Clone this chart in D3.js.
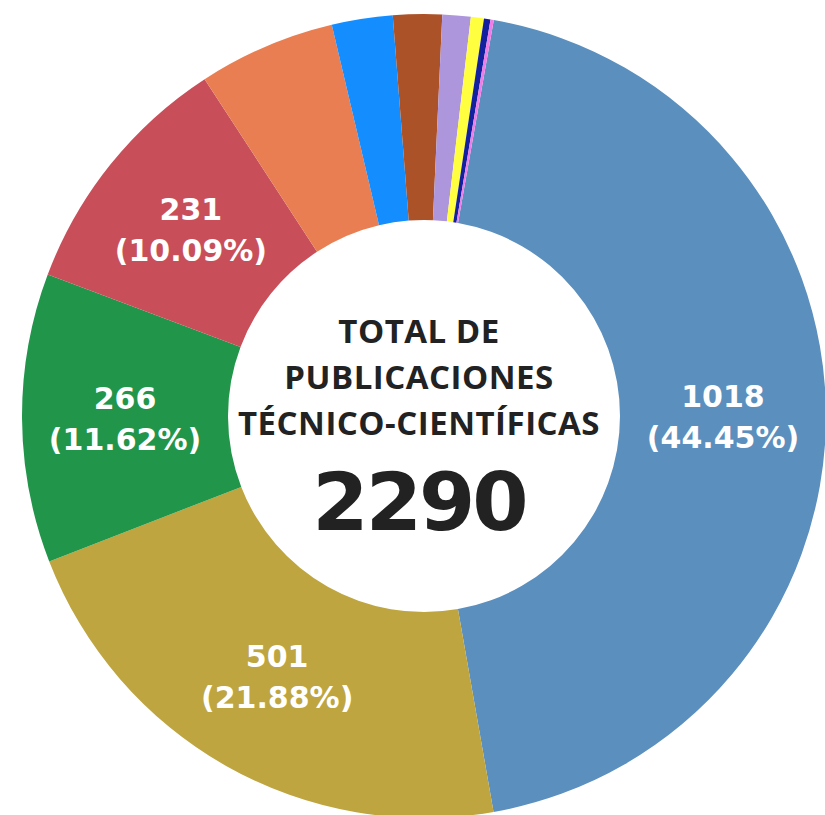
<!DOCTYPE html>
<html>
<head>
<meta charset="utf-8">
<script src="https://cdn.jsdelivr.net/npm/d3@7"></script>
<style>
  body { margin: 0; background: #fff; }
  svg { display: block; }
</style>
</head>
<body>
<div id="chart"></div>
<script>
// categories only indexed by order (no names shown in the picture)
var categories = ["c1", "c2", "c3", "c4", "c5", "c6", "c7", "c8", "c9", "c10", "c11"];
var values = [1018, 501, 266, 231, 126, 56, 45, 26, 12, 6, 3];
var colors = ["#5b8fbe", "#bea53f", "#21954a", "#c84f5a", "#e97e52", "#148eff",
              "#ac5228", "#ad96dc", "#ffff40", "#13219e", "#ee7de6"];
var centerLines = ["TOTAL DE", "PUBLICACIONES", "TÉCNICO-CIENTÍFICAS"];

var width = 825, height = 815;
var cx = 424, cy = 416;
var outerR = 402, innerR = 196;

var total = d3.sum(values);

var svg = d3.select("#chart").append("svg")
    .attr("width", width)
    .attr("height", height);

var g = svg.append("g")
    .attr("transform", "translate(" + cx + "," + cy + ")");

var pie = d3.pie()
    .sort(null)
    .value(function(d) { return d; })
    .startAngle(10 * Math.PI / 180)
    .endAngle(370 * Math.PI / 180);

var arc = d3.arc()
    .innerRadius(innerR)
    .outerRadius(outerR);

var color = d3.scaleOrdinal().domain(categories).range(colors);

var arcs = pie(values);

g.selectAll("path.slice").data(arcs)
  .enter().append("path")
    .attr("class", "slice")
    .attr("d", arc)
    .attr("fill", function(d, i) { return color(categories[i]); });

// labels on the big slices only
var labeled = arcs.filter(function(d) { return d.value / total > 0.08; });

var lab = g.selectAll("g.lab").data(labeled)
  .enter().append("g")
    .attr("class", "lab")
    .attr("transform", function(d) {
      var c = arc.centroid(d);
      return "translate(" + c[0] + "," + c[1] + ")";
    })
    .style("font-family", "'DejaVu Sans', Verdana, sans-serif")
    .style("font-weight", "bold")
    .style("font-size", "30px")
    .attr("fill", "#fff")
    .attr("text-anchor", "middle");

lab.append("text")
    .attr("y", -9)
    .text(function(d) { return d.value; });

lab.append("text")
    .attr("y", 32)
    .text(function(d) { return "(" + (d.value / total * 100).toFixed(2) + "%)"; });

// center text, sits a little left of the pie centre
var center = g.append("g")
    .attr("transform", "translate(-5,0)")
    .attr("text-anchor", "middle")
    .attr("fill", "#222");

center.selectAll("text.title").data(centerLines)
  .enter().append("text")
    .attr("class", "title")
    .attr("y", function(d, i) { return -73 + i * 46; })
    .style("font-family", "'Open Sans', sans-serif")
    .style("font-weight", "bold")
    .style("font-size", "33px")
    .style("letter-spacing", "0.5px")
    .text(function(d) { return d; });

center.append("text")
    .attr("y", 114)
    .style("font-family", "'DejaVu Sans', Verdana, sans-serif")
    .style("font-weight", "bold")
    .style("font-size", "81px")
    .style("letter-spacing", "-3px")
    .text(total);
</script>
</body>
</html>
